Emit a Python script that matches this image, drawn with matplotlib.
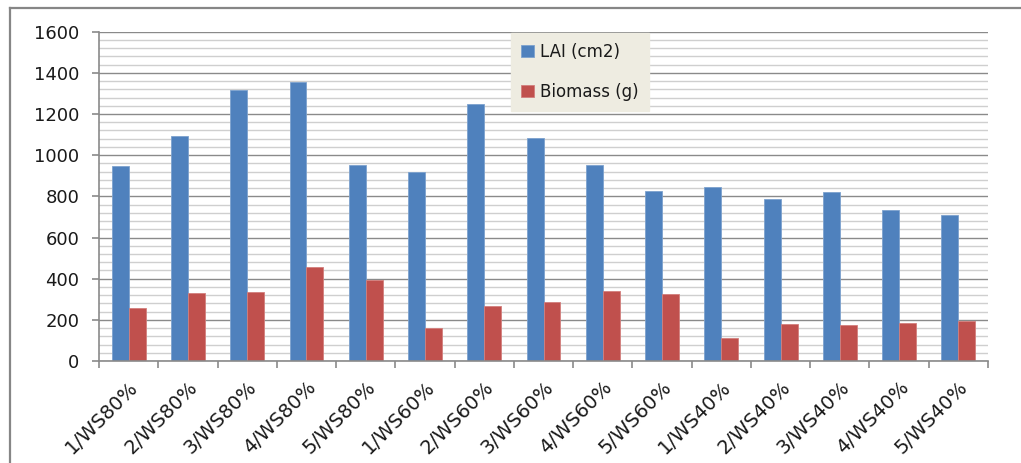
import matplotlib
matplotlib.use("Agg")
import matplotlib.pyplot as plt
import numpy as np
from matplotlib.lines import Line2D

# datos
categorias = ["1/WS80%", "2/WS80%", "3/WS80%", "4/WS80%", "5/WS80%",
              "1/WS60%", "2/WS60%", "3/WS60%", "4/WS60%", "5/WS60%",
              "1/WS40%", "2/WS40%", "3/WS40%", "4/WS40%", "5/WS40%"]
lai = [948, 1093, 1317, 1357, 952, 920, 1250, 1082, 953, 825, 845, 787, 820, 735, 710]
biomasa = [259, 329, 334, 457, 393, 162, 269, 288, 339, 324, 112, 178, 173, 183, 194]

azul = "#4F81BD"
rojo = "#C0504D"

fig = plt.figure(figsize=(10.21, 4.63), dpi=100)
ax = fig.add_axes([99/1021, 102/463, 889/1021, 329.3/463])

x = np.arange(len(categorias))
ancho = 1/3.5
ax.bar(x - ancho/2, lai, ancho, color=azul, edgecolor="#7DA2CE", linewidth=0.6,
       label="LAI (cm2)", zorder=3)
ax.bar(x + ancho/2, biomasa, ancho, color=rojo, edgecolor="#D27F7D", linewidth=0.6,
       label="Biomass (g)", zorder=3)

ax.set_xlim(-0.5, len(categorias) - 0.5)
ax.set_ylim(0, 1600)

# grilla: mayor cada 200, menor cada 40
ax.set_yticks(np.arange(0, 1601, 200))
ax.set_yticks(np.arange(0, 1601, 40), minor=True)
ax.yaxis.grid(True, which="major", color="#8A8A8A", linewidth=1.0, zorder=1)
ax.yaxis.grid(True, which="minor", color="#CFCFCF", linewidth=1.0, zorder=0)

ax.set_xticks(x)
ax.set_xticklabels(categorias, rotation=45, ha="right", rotation_mode="anchor")
ax.set_xticks(np.arange(-0.5, len(categorias), 1.0), minor=True)

ax.tick_params(axis="x", which="major", length=0, pad=12, labelsize=14, colors="#1A1A1A")
ax.tick_params(axis="x", which="minor", length=5, width=1.2, color="#8A8A8A", direction="out")
ax.tick_params(axis="y", which="major", length=5, width=1.2, color="#8A8A8A",
               pad=9, labelsize=13, labelcolor="#1A1A1A")
ax.tick_params(axis="y", which="minor", length=0)

for lado in ["top", "right"]:
    ax.spines[lado].set_visible(False)
for lado in ["left", "bottom"]:
    ax.spines[lado].set_color("#8A8A8A")
    ax.spines[lado].set_linewidth(1.2)
    ax.spines[lado].set_zorder(4)

leg = ax.legend(loc="upper left", bbox_to_anchor=(511/1021, 1 - 32.7/463),
                bbox_transform=fig.transFigure, frameon=True, fancybox=False,
                facecolor="#EEECE1", edgecolor="#EEECE1", framealpha=1,
                fontsize=12, handlelength=0.75, handleheight=0.75,
                handletextpad=0.4, labelspacing=1.35, borderpad=0.6,
                borderaxespad=0)
leg.set_zorder(5)
for t in leg.get_texts():
    t.set_color("#1A1A1A")

# marco exterior del grafico (cortado a la derecha y abajo)
fig.add_artist(Line2D([10/1021, 10/1021], [0, 1 - 7.5/463], transform=fig.transFigure,
                      color="#868686", linewidth=1.6))
fig.add_artist(Line2D([10/1021, 1], [1 - 7.5/463, 1 - 7.5/463], transform=fig.transFigure,
                      color="#868686", linewidth=1.6))

fig.savefig("out.png", dpi=100)
